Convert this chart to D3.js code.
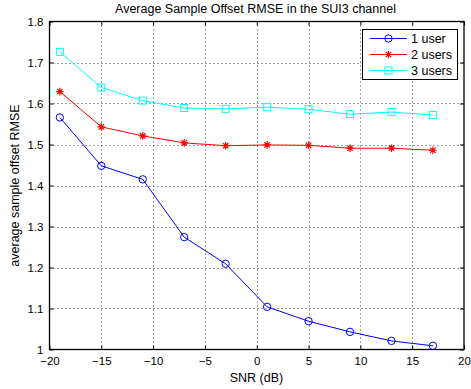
<!DOCTYPE html>
<html>
<head>
<meta charset="utf-8">
<script src="https://cdn.jsdelivr.net/npm/d3@7"></script>
<style>
  html, body { margin: 0; padding: 0; background: #fff; }
  svg { display: block; font-family: "Liberation Sans", Arial, Helvetica, sans-serif; }
</style>
</head>
<body>
<svg id="chart" width="471" height="389"></svg>
<script>
// SNR sample points (dB)
const snr = [-19, -15, -11, -7, -3, 1, 5, 9, 13, 17];

// Average sample offset RMSE per number of users
const oneUser   = [1.566, 1.448, 1.415, 1.274, 1.209, 1.104, 1.069, 1.043, 1.021, 1.009];
const twoUsers  = [1.629, 1.543, 1.521, 1.504, 1.497, 1.499, 1.498, 1.491, 1.491, 1.486];
const threeUsers = [1.726, 1.639, 1.607, 1.589, 1.587, 1.591, 1.586, 1.574, 1.579, 1.572];

const seriesNames = ["1 user", "2 users", "3 users"];
const seriesColors = ["#0000ff", "#ff0000", "#00ffff"];
const seriesMarkers = ["circle", "asterisk", "square"];

const xTicks = [-20, -15, -10, -5, 0, 5, 10, 15, 20];
const yTicks = [1, 1.1, 1.2, 1.3, 1.4, 1.5, 1.6, 1.7, 1.8];

const titleText = "Average Sample Offset RMSE in the SUI3 channel";
const xLabel = "SNR (dB)";
const yLabel = "average sample offset RMSE";

const svg = d3.select("#chart");
const margin = { left: 49.5, right: 7, top: 21.5, bottom: 39.5 };
const W = 471, H = 389;
const x = d3.scaleLinear().domain([-20, 20]).range([margin.left, W - margin.right]);
const y = d3.scaleLinear().domain([1, 1.8]).range([H - margin.bottom, margin.top]);

const fmtX = d => (d < 0 ? "\u2212" + Math.abs(d) : String(d));
const fmtY = d => (d === 1 ? "1" : d3.format(".1f")(d));

// Dotted grid
const grid = svg.append("g").attr("stroke", "#444").attr("stroke-width", 1)
  .attr("stroke-dasharray", "1,3");
grid.selectAll(".gx").data(xTicks.slice(1, -1)).join("line")
  .attr("x1", d => Math.round(x(d)) + 0.5).attr("x2", d => Math.round(x(d)) + 0.5)
  .attr("y1", y(1.8)).attr("y2", y(1));
grid.selectAll(".gy").data(yTicks.slice(1, -1)).join("line")
  .attr("y1", d => Math.round(y(d)) + 0.5).attr("y2", d => Math.round(y(d)) + 0.5)
  .attr("x1", x(-20)).attr("x2", x(20));

// Axes with inward ticks on all four sides
const tickLen = 4;
const axB = svg.append("g").attr("transform", `translate(0,${y(1)})`)
  .call(d3.axisBottom(x).tickValues(xTicks).tickFormat(fmtX).tickSizeInner(-tickLen).tickSizeOuter(0));
const axT = svg.append("g").attr("transform", `translate(0,${y(1.8)})`)
  .call(d3.axisTop(x).tickValues(xTicks).tickFormat("").tickSizeInner(-tickLen).tickSizeOuter(0));
const axL = svg.append("g").attr("transform", `translate(${x(-20)},0)`)
  .call(d3.axisLeft(y).tickValues(yTicks).tickFormat(fmtY).tickSizeInner(-tickLen).tickSizeOuter(0).tickPadding(6));
const axR = svg.append("g").attr("transform", `translate(${x(20)},0)`)
  .call(d3.axisRight(y).tickValues(yTicks).tickFormat("").tickSizeInner(-tickLen).tickSizeOuter(0));
[axB, axT, axL, axR].forEach(a => {
  a.select(".domain").remove();
  a.selectAll("line").attr("stroke", "#000");
  a.selectAll("text").attr("fill", "#000").attr("font-size", 11.5)
    .attr("font-family", "Liberation Sans, Arial, sans-serif");
});
axB.selectAll("text").attr("y", 15.5).attr("dy", 0);

// Plot box
svg.append("rect")
  .attr("x", x(-20)).attr("y", y(1.8))
  .attr("width", x(20) - x(-20)).attr("height", y(1) - y(1.8))
  .attr("fill", "none").attr("stroke", "#000").attr("stroke-width", 1.3);

// Markers
function drawMarker(g, type, color, cx, cy) {
  if (type === "circle") {
    g.append("circle").attr("cx", cx).attr("cy", cy).attr("r", 3.7)
      .attr("fill", "none").attr("stroke", color).attr("stroke-width", 1);
  } else if (type === "square") {
    g.append("rect").attr("x", cx - 3.5).attr("y", cy - 3.5).attr("width", 7).attr("height", 7)
      .attr("fill", "none").attr("stroke", color).attr("stroke-width", 1);
  } else {
    const r = 3.8, p = d3.path();
    for (let k = 0; k < 4; k++) {
      const a = k * Math.PI / 4;
      p.moveTo(cx - r * Math.cos(a), cy - r * Math.sin(a));
      p.lineTo(cx + r * Math.cos(a), cy + r * Math.sin(a));
    }
    g.append("path").attr("d", p.toString()).attr("stroke", color).attr("stroke-width", 1.2)
      .attr("fill", "none");
  }
}

// Series lines
const allSeries = [oneUser, twoUsers, threeUsers];
const line = d3.line().x(d => x(d[0])).y(d => y(d[1]));
allSeries.forEach((vals, i) => {
  const pts = snr.map((s, j) => [s, vals[j]]);
  const g = svg.append("g");
  g.append("path").attr("d", line(pts)).attr("fill", "none")
    .attr("stroke", seriesColors[i]).attr("stroke-width", 1);
  pts.forEach(p => drawMarker(g, seriesMarkers[i], seriesColors[i], x(p[0]), y(p[1])));
});

// Legend
const lg = svg.append("g");
lg.append("rect").attr("x", 362.5).attr("y", 29.5).attr("width", 95).attr("height", 50)
  .attr("fill", "#fff").attr("stroke", "#000").attr("stroke-width", 1);
seriesNames.forEach((name, i) => {
  const cy = 38.5 + i * 16;
  lg.append("line").attr("x1", 370).attr("x2", 407).attr("y1", cy).attr("y2", cy)
    .attr("stroke", seriesColors[i]).attr("stroke-width", 1);
  drawMarker(lg, seriesMarkers[i], seriesColors[i], 388.5, cy);
  lg.append("text").attr("x", 411).attr("y", cy).attr("dy", "0.35em")
    .attr("font-size", 12.5).text(name);
});

// Title and axis labels
svg.append("text").attr("x", 255.5).attr("y", 12.7).attr("text-anchor", "middle")
  .attr("font-size", 12.5).text(titleText);
svg.append("text").attr("x", 256.5).attr("y", 381.5).attr("text-anchor", "middle")
  .attr("font-size", 12.5).text(xLabel);
svg.append("text").attr("transform", `translate(18.5,${(y(1) + y(1.8)) / 2}) rotate(-90)`)
  .attr("text-anchor", "middle").attr("font-size", 12.5).text(yLabel);
</script>
</body>
</html>
